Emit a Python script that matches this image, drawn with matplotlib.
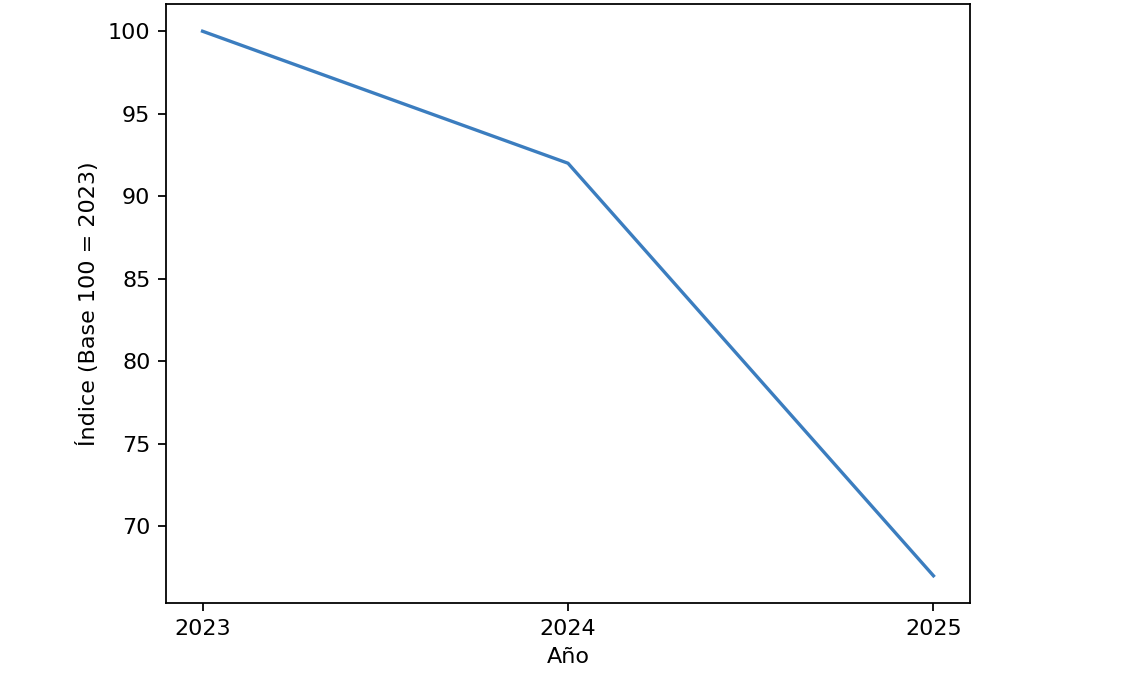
import matplotlib
matplotlib.use("Agg")
import matplotlib.pyplot as plt

# indice base 100 = 2023
years = [2023, 2024, 2025]
index_values = [100, 92, 67]

fig = plt.figure(figsize=(1142 / 160, 684 / 160), dpi=160)
ax = fig.add_axes([166 / 1142, 1 - 603 / 684, (970 - 166) / 1142, (603 - 4) / 684])

ax.plot(years, index_values, color="#3b7dbf")
ax.set_xticks(years)
ax.set_xlabel("Año")
ax.set_ylabel("Índice (Base 100 = 2023)")

fig.savefig("out.png", dpi=160)
